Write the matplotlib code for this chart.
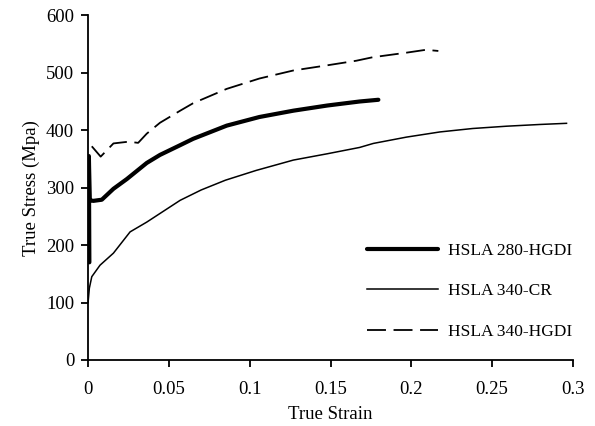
import matplotlib
matplotlib.use("Agg")
import matplotlib.pyplot as plt

# true stress-strain curves read for three HSLA grades
strain_280_hgdi = [0.0008, 0.0005, 0.0010, 0.0033, 0.0085, 0.0157, 0.024, 0.0363,
                   0.0445, 0.057, 0.065, 0.0858, 0.106, 0.127, 0.148, 0.168, 0.1796]
stress_280_hgdi = [170, 355, 278, 277, 279, 298, 315, 343,
                   357, 374, 385, 408, 423, 434, 443, 450, 453]

strain_340_cr = [0.0, 0.0008, 0.0023, 0.0074, 0.0157, 0.026, 0.0363, 0.057,
                 0.07, 0.085, 0.104, 0.127, 0.148, 0.168, 0.1765, 0.197,
                 0.2177, 0.238, 0.259, 0.2795, 0.296]
stress_340_cr = [100, 125, 145, 165, 186, 223, 240, 278,
                 296, 313, 330, 348, 359, 370, 377, 388,
                 397, 403, 407, 410, 412]

strain_340_hgdi = [0.0023, 0.0078, 0.0157, 0.025, 0.031, 0.0363, 0.0445, 0.057,
                   0.065, 0.0858, 0.106, 0.127, 0.148, 0.166, 0.176, 0.197,
                   0.209, 0.2167]
stress_340_hgdi = [372, 354, 377, 380, 378, 394, 413, 434,
                   447, 472, 490, 504, 513, 521, 527, 535,
                   540, 538]

plt.rcParams['font.family'] = ['Liberation Serif', 'DejaVu Serif']
plt.rcParams['font.size'] = 13.5

fig = plt.figure(figsize=(5.95, 4.26), dpi=100)
ax = fig.add_axes([0.148, 0.155, 0.815, 0.809])

ax.plot(strain_280_hgdi, stress_280_hgdi, color='black', lw=3.0,
        solid_capstyle='round', label='HSLA 280-HGDI')
ax.plot(strain_340_cr, stress_340_cr, color='black', lw=1.1,
        label='HSLA 340-CR')
ax.plot(strain_340_hgdi, stress_340_hgdi, color='black', lw=1.3,
        dashes=(10.5, 4.2), label='HSLA 340-HGDI')

ax.set_xlim(0, 0.3)
ax.set_ylim(0, 600)
ax.set_xticks([0, 0.05, 0.1, 0.15, 0.2, 0.25, 0.3])
ax.set_xticklabels(['0', '0.05', '0.1', '0.15', '0.2', '0.25', '0.3'])
ax.set_yticks(range(0, 601, 100))

for side in ['top', 'right']:
    ax.spines[side].set_visible(False)
for side in ['left', 'bottom']:
    ax.spines[side].set_linewidth(1.3)
ax.tick_params(direction='out', length=5, width=1.3)
ax.tick_params(axis='x', pad=10)
ax.tick_params(axis='y', pad=5)

ax.set_xlabel('True Strain', labelpad=6)
ax.set_ylabel('True Stress (Mpa)', labelpad=4)

ax.legend(frameon=False, loc='lower right', bbox_to_anchor=(1.03, 0.013),
          fontsize=12.5, handlelength=4.1, labelspacing=1.4, handletextpad=0.57)

fig.savefig('out.png', dpi=100)
